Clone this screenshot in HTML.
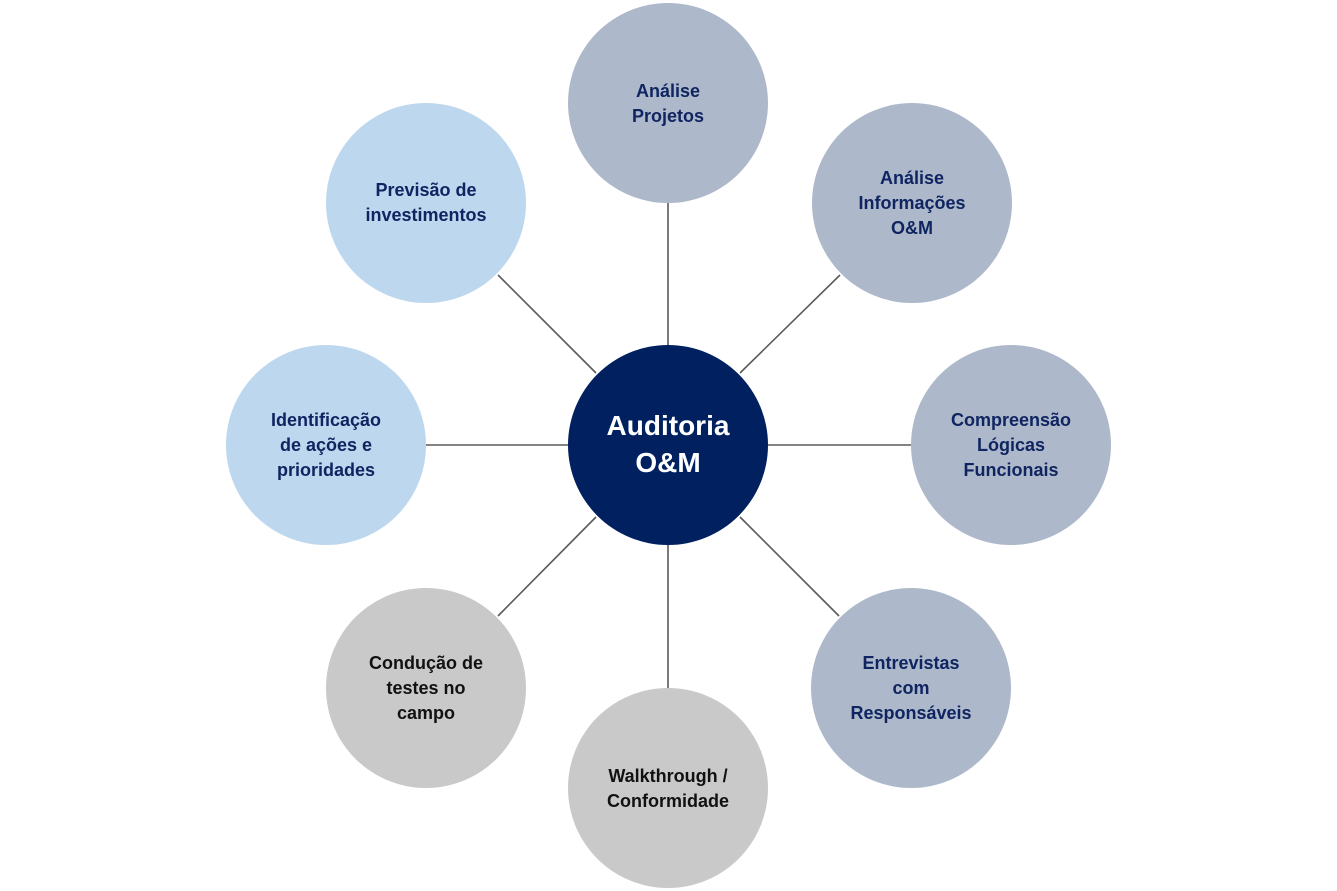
<!DOCTYPE html>
<html><head><meta charset="utf-8"><style>
html,body{margin:0;padding:0;background:#fff;}
svg{display:block}
text{font-family:"Liberation Sans",sans-serif;font-weight:bold;text-anchor:middle;}
</style></head><body>
<svg width="1337" height="891" viewBox="0 0 1337 891">
<g stroke="#5a5a5a" stroke-width="1.6">
<line x1="668" y1="203" x2="668" y2="345"/>
<line x1="740" y1="373" x2="840" y2="275"/>
<line x1="768" y1="445" x2="911" y2="445"/>
<line x1="740" y1="517" x2="839" y2="616"/>
<line x1="668" y1="545" x2="668" y2="688"/>
<line x1="596" y1="517" x2="498" y2="616"/>
<line x1="568" y1="445" x2="426" y2="445"/>
<line x1="596" y1="373" x2="498" y2="275"/>
</g>
<circle cx="668" cy="103" r="100" fill="#adb9ca"/>
<circle cx="912" cy="203" r="100" fill="#adb9ca"/>
<circle cx="1011" cy="445" r="100" fill="#adb9ca"/>
<circle cx="911" cy="688" r="100" fill="#adb9ca"/>
<circle cx="668" cy="788" r="100" fill="#c9c9c9"/>
<circle cx="426" cy="688" r="100" fill="#c9c9c9"/>
<circle cx="326" cy="445" r="100" fill="#bdd7ee"/>
<circle cx="426" cy="203" r="100" fill="#bdd7ee"/>
<circle cx="668" cy="445" r="100" fill="#002060"/>
<g font-size="18" fill="#0f2461">
<text x="668" y="97">Análise</text><text x="668" y="122">Projetos</text>
<text x="912" y="184">Análise</text><text x="912" y="209">Informações</text><text x="912" y="234">O&amp;M</text>
<text x="1011" y="426">Compreensão</text><text x="1011" y="451">Lógicas</text><text x="1011" y="476">Funcionais</text>
<text x="911" y="669">Entrevistas</text><text x="911" y="694">com</text><text x="911" y="719">Responsáveis</text>
<text x="326" y="426">Identificação</text><text x="326" y="451">de ações e</text><text x="326" y="476">prioridades</text>
<text x="426" y="196">Previsão de</text><text x="426" y="221">investimentos</text>
</g>
<g font-size="18" fill="#111">
<text x="668" y="782">Walkthrough /</text><text x="668" y="807">Conformidade</text>
<text x="426" y="669">Condução de</text><text x="426" y="694">testes no</text><text x="426" y="719">campo</text>
</g>
<g font-size="28" fill="#fff">
<text x="668" y="435">Auditoria</text><text x="668" y="472">O&amp;M</text>
</g>
</svg>
</body></html>
